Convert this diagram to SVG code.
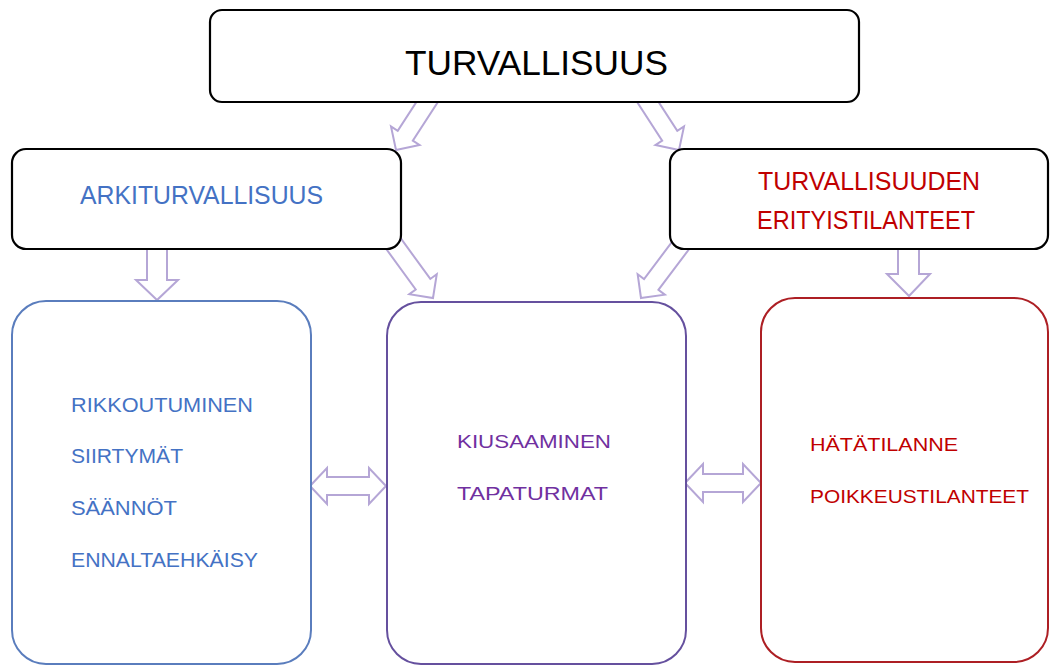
<svg xmlns="http://www.w3.org/2000/svg" width="1050" height="666" viewBox="0 0 1050 666">
<style>
.arr{fill:#fff;stroke:#b5a6d6;stroke-width:2;stroke-linejoin:miter}
.bk{fill:#fff;stroke:#000;stroke-width:2.2}
.t{font-family:"Liberation Sans",Arial,sans-serif}
.blue{fill:#4472c4}
.pur{fill:#7030a0}
.red{fill:#c00000}
</style>
<defs>
<polygon id="darr" points="0,0 17,-17 9,-17 9,-80 -9,-80 -9,-17 -17,-17"/>
</defs>
<rect width="1050" height="666" fill="#fff"/>
<g id="connectors">
<use href="#darr" class="arr" transform="translate(396,150) rotate(33)"/>
<use href="#darr" class="arr" transform="translate(679,150) rotate(-33)"/>
<use href="#darr" class="arr" transform="translate(433,298) rotate(-36)"/>
<use href="#darr" class="arr" transform="translate(641,298) rotate(37)"/>
<polygon class="arr" points="157,300 136,280 147,280 147,240 167,240 167,280 178,280"/>
<polygon class="arr" points="909,296 887,274 898,274 898,240 919,240 919,274 930,274"/>
<polygon class="arr" points="310,486 327,468 327,477 369,477 369,468 386,486 369,504 369,495 327,495 327,504"/>
<polygon class="arr" points="685,483 703,464 703,474 743,474 743,464 761,483 743,502 743,492 703,492 703,502"/>
</g>
<g id="top">
<rect class="bk" x="210" y="10" width="649" height="92" rx="12"/>
<text class="t" x="405" y="75" font-size="35" textLength="263" lengthAdjust="spacingAndGlyphs" fill="#000">TURVALLISUUS</text>
</g>
<g id="arki">
<rect class="bk" x="12" y="149" width="389" height="100" rx="14"/>
<text class="t blue" x="80" y="204" font-size="25" textLength="243" lengthAdjust="spacingAndGlyphs">ARKITURVALLISUUS</text>
</g>
<g id="erityis">
<rect class="bk" x="670" y="149" width="378" height="100" rx="14"/>
<text class="t red" x="758" y="190" font-size="25" textLength="222" lengthAdjust="spacingAndGlyphs">TURVALLISUUDEN</text>
<text class="t red" x="757" y="229" font-size="25" textLength="218" lengthAdjust="spacingAndGlyphs">ERITYISTILANTEET</text>
</g>
<g id="arkibox">
<rect x="12" y="301" width="299" height="363" rx="34" fill="#fff" stroke="#5a7dbd" stroke-width="2"/>
<g class="t blue" font-size="20">
<text x="71" y="412" textLength="182" lengthAdjust="spacingAndGlyphs">RIKKOUTUMINEN</text>
<text x="71" y="463" textLength="112" lengthAdjust="spacingAndGlyphs">SIIRTYMÄT</text>
<text x="71" y="515" textLength="106" lengthAdjust="spacingAndGlyphs">SÄÄNNÖT</text>
<text x="71" y="567" textLength="187" lengthAdjust="spacingAndGlyphs">ENNALTAEHKÄISY</text>
</g>
</g>
<g id="middlebox">
<rect x="387" y="302" width="299" height="362" rx="34" fill="#fff" stroke="#65509e" stroke-width="2"/>
<g class="t pur" font-size="19">
<text x="457" y="448" textLength="154" lengthAdjust="spacingAndGlyphs">KIUSAAMINEN</text>
<text x="457" y="500" textLength="151" lengthAdjust="spacingAndGlyphs">TAPATURMAT</text>
</g>
</g>
<g id="redbox">
<rect x="761" y="298" width="287" height="364" rx="34" fill="#fff" stroke="#ad1f24" stroke-width="2"/>
<g class="t red" font-size="19">
<text x="810" y="451" textLength="148" lengthAdjust="spacingAndGlyphs">HÄTÄTILANNE</text>
<text x="810" y="503" textLength="219" lengthAdjust="spacingAndGlyphs">POIKKEUSTILANTEET</text>
</g>
</g>
</svg>
